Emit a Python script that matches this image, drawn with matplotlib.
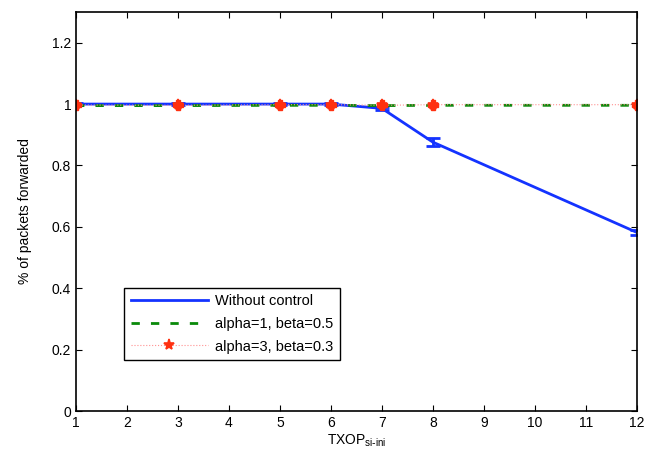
import matplotlib
matplotlib.use('Agg')
import matplotlib.pyplot as plt

plt.rcParams['font.family'] = ['Liberation Sans', 'DejaVu Sans']

x = [1, 3, 5, 6, 7, 8, 12]
no_ctrl = [1.0, 1.0, 1.0, 1.0, 0.986, 0.876, 0.582]
no_ctrl_err = [0.002, 0.002, 0.002, 0.002, 0.006, 0.012, 0.008]
a1_b05 = [0.995, 0.995, 0.996, 0.996, 0.995, 0.996, 0.996]
a3_b03 = [0.997, 0.996, 0.998, 0.998, 0.996, 0.998, 0.998]

fig = plt.figure(figsize=(6.64, 4.53), dpi=100)
ax = fig.add_axes([0.1145, 0.0927, 0.8445, 0.8808])

ax.errorbar(x, no_ctrl, yerr=no_ctrl_err, fmt='none', ecolor='#1433ff',
            elinewidth=2, capsize=5, capthick=2)
ax.plot(x, no_ctrl, color='#1433ff', lw=2, label='Without control')
ax.plot(x, a1_b05, color='#0a8a0a', lw=2, ls=(0, (3, 4)), label='alpha=1, beta=0.5')
ax.plot(x, a3_b03, color='#ff9090', lw=0.8, ls=':',
        marker='*', ms=8, mec='#ff3010', mfc='#ff3010', markeredgewidth=1.2,
        label='alpha=3, beta=0.3')
ax.plot(x, a3_b03, ls='none', marker='P', ms=7, color='#ff3010')

ax.set_xlim(1, 12)
ax.set_ylim(0, 1.3)
ax.set_xticks(range(1, 13))
ax.set_yticks([0, 0.2, 0.4, 0.6, 0.8, 1, 1.2])
ax.set_yticklabels(['0', '0.2', '0.4', '0.6', '0.8', '1', '1.2'])
ax.tick_params(direction='in', labelsize=10, length=4)
ax.tick_params(top=True, right=True)
for s in ax.spines.values():
    s.set_linewidth(1.2)
ax.set_xlabel('TXOP$_{\\mathregular{si\\text{-}ini}}$', fontsize=10, labelpad=2)
ax.set_ylabel('% of packets forwarded', fontsize=10, labelpad=14)

leg = ax.legend(loc='lower left', bbox_to_anchor=(0.187, 0.205),
                bbox_transform=fig.transFigure, borderaxespad=0,
                fontsize=10.5, fancybox=False,
                edgecolor='black', framealpha=1, handlelength=5.3,
                borderpad=0.45, labelspacing=0.6, handletextpad=0.5)
leg.get_frame().set_linewidth(1.0)

fig.savefig('out.png', dpi=100)
